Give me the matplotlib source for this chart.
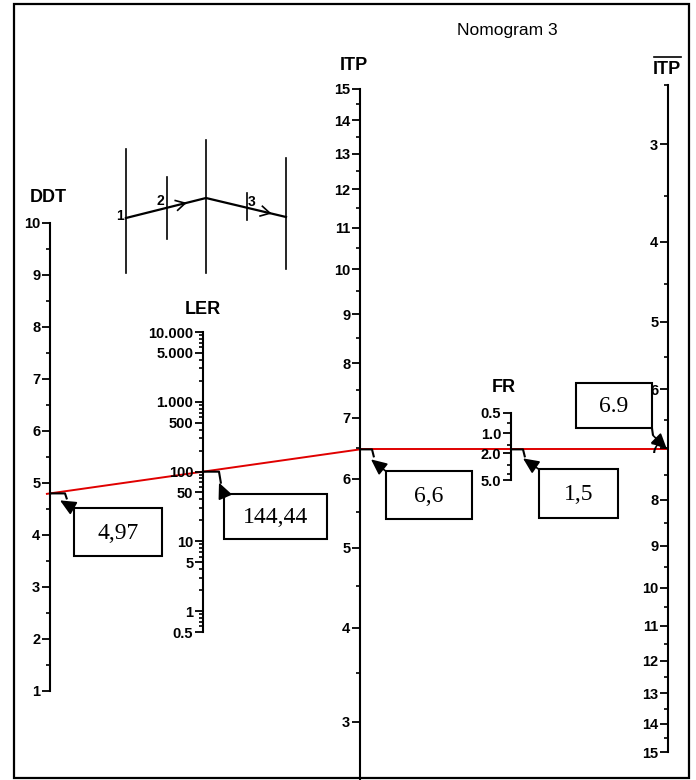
import numpy as np
import matplotlib
matplotlib.use("Agg")
import matplotlib.pyplot as plt
from matplotlib.ticker import FixedLocator, FixedFormatter
from matplotlib.patches import Rectangle

plt.rcParams['font.family'] = ['Liberation Sans Narrow', 'Liberation Sans', 'DejaVu Sans']

# ---- scale values ----
ddt_major = [1, 2, 3, 4, 5, 6, 7, 8, 9, 10]
ddt_minor = [1.5, 2.5, 3.5, 4.5, 5.5, 6.5, 7.5, 8.5, 9.5]

ler_major = [0.5, 1, 5, 10, 50, 100, 500, 1000, 5000, 10000]
ler_labels = ['0.5', '1', '5', '10', '50', '100', '500', '1.000', '5.000', '10.000']

itp_major = [3, 4, 5, 6, 7, 8, 9, 10, 11, 12, 13, 14, 15]
itp_minor = [3.5, 4.5, 5.5, 6.5, 7.5, 8.5, 9.5, 10.5, 11.5, 12.5, 13.5, 14.5]

fr_major = [0.5, 1, 2, 5]
fr_labels = ['0.5', '1.0', '2.0', '5.0']
fr_minor = [0.7, 1.5, 3, 4]

itpb_major = [3, 4, 5, 6, 7, 8, 9, 10, 11, 12, 13, 14, 15]
itpb_minor = [2.5, 3.5, 4.5, 5.5, 6.5, 7.5, 8.5, 9.5, 10.5, 11.5, 12.5, 13.5, 14.5]

# reading drawn in red
line_ddt = 4.8
line_itp = 6.47
callout_text = ['4,97', '144,44', '6,6', '1,5', '6.9']

W, H = 696, 780
fig = plt.figure(figsize=(W / 100, H / 100), dpi=100)
canvas = fig.add_axes([0, 0, 1, 1])
canvas.set_xlim(0, W)
canvas.set_ylim(H, 0)
canvas.axis('off')

lin = (lambda v: np.asarray(v, float), lambda v: np.asarray(v, float))
lg = (lambda v: np.log10(v), lambda v: 10 ** np.asarray(v, float))
lg2 = (lambda v: np.log10(np.asarray(v, float) + 2), lambda v: 10 ** np.asarray(v, float) - 2)
lg1 = (lambda v: np.log10(np.asarray(v, float) + 1), lambda v: 10 ** np.asarray(v, float) - 1)


def scale_axes(x, va, pa, vb, pb, lo, hi, funcs, major, labels, minor):
    fwd, inv = funcs
    k = (pb - pa) / (fwd(vb) - fwd(va))
    p_lo = pa + k * (fwd(lo) - fwd(va))
    p_hi = pa + k * (fwd(hi) - fwd(va))
    top, bot = min(p_lo, p_hi), max(p_lo, p_hi)
    ax = fig.add_axes([x / W, 1 - bot / H, 0.0001, (bot - top) / H])
    ax.set_yscale('function', functions=funcs)
    ax.set_ylim((lo, hi) if p_lo > p_hi else (hi, lo))
    ax.patch.set_visible(False)
    for s in ['top', 'right', 'bottom']:
        ax.spines[s].set_visible(False)
    ax.spines['left'].set_linewidth(1.5)
    ax.xaxis.set_visible(False)
    ax.yaxis.set_major_locator(FixedLocator(major))
    ax.yaxis.set_major_formatter(FixedFormatter(labels))
    ax.yaxis.set_minor_locator(FixedLocator(minor))
    ax.tick_params(axis='y', which='major', direction='out', length=5.5, width=1.3,
                   pad=1.5, labelsize=10.5)
    ax.tick_params(axis='y', which='minor', direction='out', length=3, width=1.2)
    for t in ax.get_yticklabels():
        t.set_fontweight('bold')
    return ax


ax_ddt = scale_axes(50, 10, 223, 1, 691, 1, 10, lin, ddt_major,
                    [str(v) for v in ddt_major], ddt_minor)
ler_minor = [m * 10.0 ** e for e in range(-1, 4) for m in range(1, 10)
             if 0.5 <= m * 10.0 ** e <= 10000 and m * 10.0 ** e not in ler_major]
ax_ler = scale_axes(203, 10000, 332, 0.5, 632, 0.5, 10000, lg, ler_major, ler_labels, ler_minor)
ax_itp = scale_axes(360, 15, 89, 3, 722, 2.46, 15, lg2, itp_major,
                    [str(v) for v in itp_major], itp_minor)
ax_fr = scale_axes(511, 0.5, 413, 5, 480, 0.5, 5, lg, fr_major, fr_labels, fr_minor)
ax_itpb = scale_axes(668, 3, 144, 15, 752, 2.5, 15, lg1, itpb_major,
                     [str(v) for v in itpb_major], itpb_minor)


def pt(ax, v):
    d = ax.transData.transform((0, v))
    return canvas.transData.inverted().transform(d)


# red reading lines
p1 = pt(ax_ddt, line_ddt)
p2 = pt(ax_itp, line_itp)
start = p1 - 0.01 * (p2 - p1)
canvas.plot([start[0], p2[0]], [start[1], p2[1]], color='#e00000', lw=1.4, zorder=5)
p_end = (pt(ax_itpb, 7)[0], p2[1])
canvas.plot([p2[0], p_end[0]], [p2[1], p2[1]], color='#e00000', lw=1.4, zorder=5)

# crossing points on each scale
x_ler = pt(ax_ler, 100)[0]
y_ler = p1[1] + (p2[1] - p1[1]) * (x_ler - p1[0]) / (p2[0] - p1[0])
x_fr = pt(ax_fr, 1)[0]
crossings = [tuple(p1), (x_ler, y_ler), tuple(p2), (x_fr, p2[1]), p_end]

# callout layout relative to crossing: hook points, arrow tail, arrow tip, box
callouts = [
    dict(hook=[(0, 0), (15, 0), (17, 6)], tail=(24, 15), tip=(10, 7), box=(24, 15, 88, 48)),
    dict(hook=[(0, 0), (16, 0), (18, 12)], tail=(22, 25), tip=(16, 11), box=(21, 22, 103, 45)),
    dict(hook=[(0, 0), (12, 0), (14, 8)], tail=(26, 22), tip=(11, 10), box=(26, 22, 86, 48)),
    dict(hook=[(0, 0), (12, 0), (14, 8)], tail=(28, 20), tip=(12, 9), box=(28, 20, 79, 49)),
    dict(hook=[(-16, -21), (-15, -14)], tail=(-15, -14), tip=(-1, 0), box=(-92, -66, 76, 45)),
]
for (cx, cy), c, txt in zip(crossings, callouts, callout_text):
    hx = [cx + h[0] for h in c['hook']]
    hy = [cy + h[1] for h in c['hook']]
    canvas.plot(hx, hy, color='black', lw=1.5, zorder=6, solid_capstyle='butt')
    canvas.annotate('', xy=(cx + c['tip'][0], cy + c['tip'][1]),
                    xytext=(cx + c['tail'][0], cy + c['tail'][1]),
                    arrowprops=dict(arrowstyle='-|>,head_length=1.2,head_width=0.55',
                                    color='black', lw=1.2, shrinkA=0, shrinkB=0,
                                    mutation_scale=8), zorder=7)
    bx, by, bw, bh = c['box']
    canvas.add_patch(Rectangle((cx + bx, cy + by), bw, bh, facecolor='white',
                               edgecolor='black', lw=1.5, zorder=6))
    canvas.text(cx + bx + bw / 2, cy + by + bh / 2 + 1, txt, ha='center', va='center',
                fontsize=17, family='Liberation Serif', zorder=8)

# scale titles
canvas.text(48, 197, 'DDT', ha='center', va='center', fontsize=13, fontweight='bold')
canvas.text(203, 310, 'LER', ha='center', va='center', fontsize=13, fontweight='bold')
canvas.text(354, 66, 'ITP', ha='center', va='center', fontsize=13, fontweight='bold')
canvas.text(504, 388, 'FR', ha='center', va='center', fontsize=13, fontweight='bold')
canvas.text(667, 70, 'ITP', ha='center', va='center', fontsize=13, fontweight='bold')
canvas.plot([654, 681], [57, 57], color='black', lw=1.2)
canvas.text(507, 30, 'Nomogram 3', ha='center', va='center', fontsize=12.5,
            family='Liberation Sans')

# small schematic of how to read the nomogram
bars = [(126, 149, 273), (167, 177, 239), (206, 140, 273), (247, 193, 220), (286, 158, 269)]
for bx, y0, y1 in bars:
    canvas.plot([bx, bx], [y0, y1], color='black', lw=1.2)
path = [(126, 218), (206, 198), (286, 217)]
canvas.plot([p[0] for p in path], [p[1] for p in path], color='black', lw=1.6)
for (ax0, ay0), (ax1, ay1), f in [(path[0], path[1], 0.74), (path[1], path[2], 0.8)]:
    d = np.array([ax1 - ax0, ay1 - ay0], float)
    d /= np.hypot(*d)
    n = np.array([-d[1], d[0]])
    tip = np.array([ax0, ay0]) + f * np.array([ax1 - ax0, ay1 - ay0])
    for s in (1, -1):
        a = tip - 9 * d + s * 5 * n
        canvas.plot([a[0], tip[0]], [a[1], tip[1]], color='black', lw=1.2)
for lab, lx, ly in [('1', 120, 216), ('2', 160, 201), ('3', 252, 202)]:
    canvas.text(lx, ly, lab, ha='center', va='center', fontsize=10, fontweight='bold')

# frame
canvas.add_patch(Rectangle((14, 4), 675, 774, fill=False, edgecolor='black', lw=1.6))

fig.savefig('out.png', dpi=100)
